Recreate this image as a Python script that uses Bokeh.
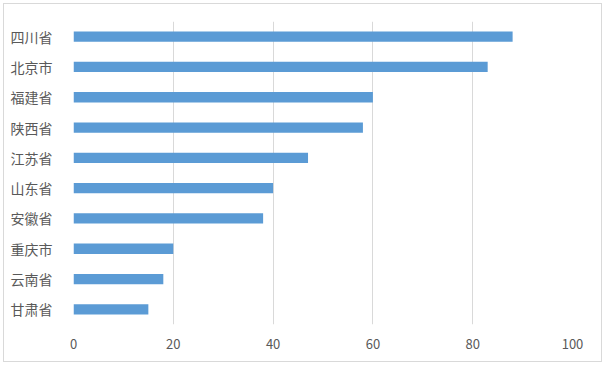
from bokeh.plotting import figure
from bokeh.models import FactorRange, Range1d, FixedTicker
from bokeh.embed import file_html
from bokeh.resources import INLINE

provinces = ["四川省", "北京市", "福建省", "陕西省", "江苏省", "山东省", "安徽省", "重庆市", "云南省", "甘肃省"]
values = [88, 83, 60, 58, 47, 40, 38, 20, 18, 15]
x_ticks = [0, 20, 40, 60, 80, 100]

p = figure(width=599, height=359, output_backend="svg", toolbar_location=None,
           y_range=FactorRange(factors=list(reversed(provinces))),
           x_range=Range1d(0, 100),
           min_border_left=69, min_border_right=31, min_border_top=17, min_border_bottom=39)
p.styles = {"border": "1px solid #d9d9d9", "margin-left": "3px", "margin-top": "3px"}
p.outline_line_color = None

p.hbar(y=provinces, right=values, left=0, height=0.34, color="#5b9bd5", line_color=None)

p.xaxis.ticker = FixedTicker(ticks=x_ticks)
p.xaxis.axis_line_color = None
p.xaxis.major_tick_line_color = None
p.xaxis.minor_tick_line_color = None
p.xaxis.major_label_text_color = "#595959"
p.xaxis.major_label_text_font = "Noto Sans CJK SC"
p.xaxis.major_label_text_font_size = "13px"
p.xaxis.major_label_standoff = 8

p.yaxis.axis_line_color = None
p.yaxis.major_tick_line_color = None
p.yaxis.major_label_text_color = "#595959"
p.yaxis.major_label_text_font = "Noto Sans CJK SC"
p.yaxis.major_label_text_font_size = "14px"
p.yaxis.major_label_standoff = 15

p.xgrid.ticker = FixedTicker(ticks=x_ticks)
p.xgrid.grid_line_color = "#d9d9d9"
p.ygrid.grid_line_color = None

open("out.html", "w").write(file_html(p, INLINE))
